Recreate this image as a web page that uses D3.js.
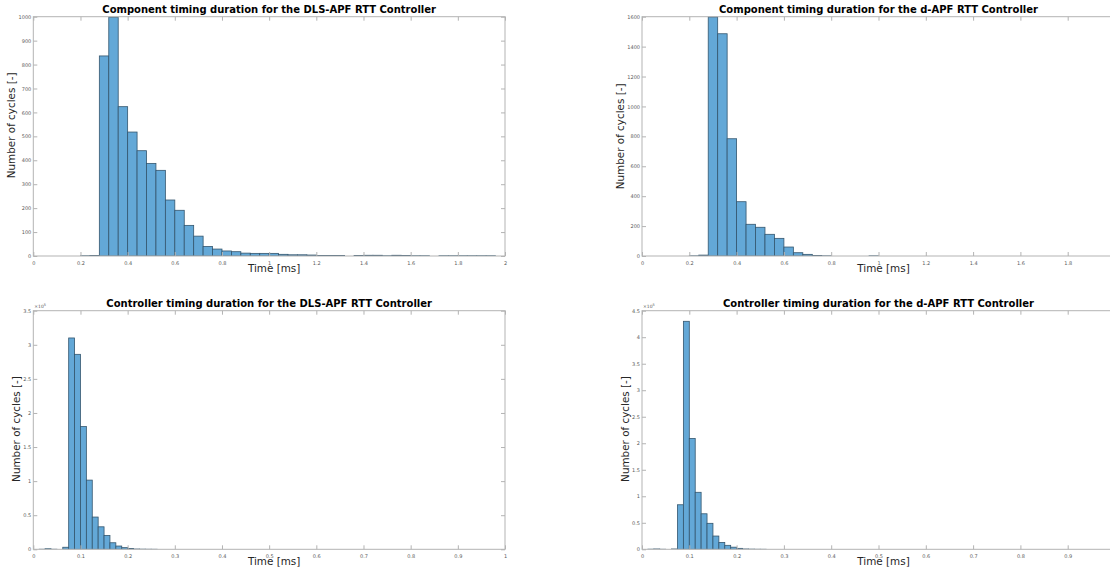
<!DOCTYPE html>
<html>
<head>
<meta charset="utf-8">
<script src="https://cdn.jsdelivr.net/npm/d3@7"></script>
<style>
  html, body { margin: 0; padding: 0; background: #fff; }
  svg { display: block; }
</style>
</head>
<body>
<svg id="fig" width="1110" height="570"></svg>
<script>
// ---- Histogram data ----
// Component timing: bins of 0.04 ms, first bin edge listed in *Start
const compBinWidth = 0.04;
const dlsCompStart = 0.20;
const dlsCompCounts = [1, 2, 836, 998, 624, 518, 440, 387, 358, 234, 191, 128, 83, 40, 29, 21, 18, 12, 11, 11,
  11, 7, 5, 5, 4, 2, 2, 2, 0, 2, 3, 3, 1, 3, 2, 1, 1, 0, 1, 1, 1, 1, 1, 1, 0];
const dapfCompStart = 0.20;
const dapfCompCounts = [1, 6, 1598, 1486, 784, 363, 212, 192, 145, 118, 60, 22, 11, 3, 1, 0, 0, 0, 0, 1];

// Controller timing: bins of 0.0125 ms
const ctrlBinWidth = 0.0125;
const dlsCtrlStart = 0.0125;
const dlsCtrlCounts = [100, 800, 100, 0, 3000, 310000, 286000, 180000, 101500, 47300, 33000, 20400, 9600,
  4800, 2400, 1100, 400, 200, 100, 50];
const dapfCtrlStart = 0.0125;
const dapfCtrlCounts = [200, 600, 100, 0, 600, 84000, 430000, 209000, 107500, 67000, 49000, 25000, 13000,
  7500, 4000, 1800, 600, 300, 100, 50];

// ---- Tick labels ----
const compXTicks = [0, 0.2, 0.4, 0.6, 0.8, 1, 1.2, 1.4, 1.6, 1.8, 2];
const ctrlXTicks = [0, 0.1, 0.2, 0.3, 0.4, 0.5, 0.6, 0.7, 0.8, 0.9, 1];
const dlsCompYTicks = [0, 100, 200, 300, 400, 500, 600, 700, 800, 900, 1000];
const dapfCompYTicks = [0, 200, 400, 600, 800, 1000, 1200, 1400, 1600];
const dlsCtrlYTicks = [0, 0.5, 1, 1.5, 2, 2.5, 3, 3.5];      // x 10^5
const dapfCtrlYTicks = [0, 0.5, 1, 1.5, 2, 2.5, 3, 3.5, 4, 4.5]; // x 10^5

const titles = [
  "Component timing duration for the DLS-APF RTT Controller",
  "Component timing duration for the d-APF RTT Controller",
  "Controller timing duration for the DLS-APF RTT Controller",
  "Controller timing duration for the d-APF RTT Controller"
];
const xLabel = "Time [ms]";
const yLabel = "Number of cycles [-]";

// ---- Panel layout ----
const panels = [
  { title: titles[0], start: dlsCompStart, width: compBinWidth, counts: dlsCompCounts,
    xMax: 2, xTicks: compXTicks, yMax: 1000, yTicks: dlsCompYTicks, scale: 1, yLabelShift: -11,
    box: { left: 33.3, right: 505, top: 16.7, bottom: 256 } },
  { title: titles[1], start: dapfCompStart, width: compBinWidth, counts: dapfCompCounts,
    xMax: 2, xTicks: compXTicks, yMax: 1600, yTicks: dapfCompYTicks, scale: 1, yLabelShift: 0,
    box: { left: 642, right: 1115, top: 16.7, bottom: 256 } },
  { title: titles[2], start: dlsCtrlStart, width: ctrlBinWidth, counts: dlsCtrlCounts,
    xMax: 1, xTicks: ctrlXTicks, yMax: 3.5e5, yTicks: dlsCtrlYTicks, scale: 1e5, yLabelShift: -1,
    box: { left: 33.3, right: 505, top: 310.7, bottom: 549.3 } },
  { title: titles[3], start: dapfCtrlStart, width: ctrlBinWidth, counts: dapfCtrlCounts,
    xMax: 1, xTicks: ctrlXTicks, yMax: 4.5e5, yTicks: dapfCtrlYTicks, scale: 1e5, yLabelShift: -1,
    box: { left: 642, right: 1115, top: 310.7, bottom: 549.3 } }
];

const svg = d3.select("#fig");
const svgWidth = +svg.attr("width");
const FONT = "'DejaVu Sans', sans-serif";
const frameColor = "#b3b3b3";
const tickTextColor = "#5a5a5a";
const barFill = "#63a8d7";
const barEdge = "#34566e";
const fmt = d3.format("~g");

panels.forEach((p, pi) => {
  const b = p.box;
  const g = svg.append("g");
  const x = d3.scaleLinear().domain([0, p.xMax]).range([b.left, b.right]);
  const y = d3.scaleLinear().domain([0, p.yMax]).range([b.bottom, b.top]);

  const clipId = "clip" + pi;
  g.append("clipPath").attr("id", clipId)
    .append("rect").attr("x", b.left).attr("y", b.top - 1)
    .attr("width", b.right - b.left).attr("height", b.bottom - b.top + 1);

  // bars
  const bins = p.counts.map((c, i) => ({ x0: p.start + i * p.width, x1: p.start + (i + 1) * p.width, n: c }));
  g.append("g").attr("clip-path", `url(#${clipId})`)
    .selectAll("rect").data(bins).join("rect")
    .attr("x", d => x(d.x0))
    .attr("y", d => y(d.n))
    .attr("width", d => x(d.x1) - x(d.x0))
    .attr("height", d => y(0) - y(d.n))
    .attr("fill", barFill)
    .attr("stroke", d => d.n > 0 ? barEdge : "#9a9a9a")
    .attr("stroke-width", 0.8);

  // only the ticks that land inside the drawing area
  const xTickVals = p.xTicks.filter(t => x(t) <= svgWidth - 1);
  const yTickVals = p.yTicks.map(t => t * p.scale);
  const tickLen = 4;

  const bottomAxis = d3.axisBottom(x).tickValues(xTickVals).tickSizeInner(-tickLen).tickSizeOuter(0)
    .tickPadding(5).tickFormat(fmt);
  const gb = g.append("g").attr("transform", `translate(0,${b.bottom})`).call(bottomAxis);
  const topAxis = d3.axisTop(x).tickValues(xTickVals).tickSizeInner(-tickLen).tickSizeOuter(0).tickFormat("");
  const gt = g.append("g").attr("transform", `translate(0,${b.top})`).call(topAxis);
  const leftAxis = d3.axisLeft(y).tickValues(yTickVals).tickSizeInner(-tickLen).tickSizeOuter(0)
    .tickPadding(2).tickFormat(v => fmt(+(v / p.scale).toFixed(4)));
  const gl = g.append("g").attr("transform", `translate(${b.left},0)`).call(leftAxis);
  const rightAxis = d3.axisRight(y).tickValues(yTickVals).tickSizeInner(-tickLen).tickSizeOuter(0).tickFormat("");
  const gr = g.append("g").attr("transform", `translate(${b.right},0)`).call(rightAxis);

  [gb, gt, gl, gr].forEach(a => {
    a.select(".domain").remove();
    a.selectAll(".tick line").attr("stroke", frameColor).attr("stroke-width", 1);
    a.selectAll(".tick text").attr("fill", tickTextColor)
      .style("font-family", FONT).style("font-size", "5px");
  });

  // frame
  g.append("rect")
    .attr("x", b.left).attr("y", b.top)
    .attr("width", b.right - b.left).attr("height", b.bottom - b.top)
    .attr("fill", "none").attr("stroke", frameColor).attr("stroke-width", 1);

  // exponent marker for scaled axes
  if (p.scale !== 1) {
    const ex = g.append("text")
      .attr("x", b.left + 1).attr("y", b.top - 3)
      .attr("fill", tickTextColor)
      .style("font-family", FONT).style("font-size", "4.5px");
    ex.append("tspan").text("\u00d710");
    ex.append("tspan").attr("dy", -2).style("font-size", "3.5px").text("5");
  }

  const cx = (b.left + b.right) / 2;
  g.append("text")
    .attr("x", cx).attr("y", b.top - 3.5)
    .attr("text-anchor", "middle")
    .style("font-family", FONT).style("font-size", "10px").style("font-weight", "bold")
    .attr("fill", "#000")
    .text(p.title);

  g.append("text")
    .attr("x", cx + 5).attr("y", b.bottom + 15.5)
    .attr("text-anchor", "middle")
    .style("font-family", FONT).style("font-size", "10.4px")
    .attr("fill", "#262626")
    .text(xLabel);

  // y label placed just outside the widest tick label
  let maxW = 0;
  gl.selectAll(".tick text").each(function () { maxW = Math.max(maxW, this.getBBox().width); });
  const ly = (b.top + b.bottom) / 2 + p.yLabelShift;
  const lx = b.left - maxW - 9;
  g.append("text")
    .attr("transform", `translate(${lx},${ly}) rotate(-90)`)
    .attr("text-anchor", "middle")
    .attr("dy", "0.35em")
    .style("font-family", FONT).style("font-size", "10.4px")
    .attr("fill", "#262626")
    .text(yLabel);
});
</script>
</body>
</html>
